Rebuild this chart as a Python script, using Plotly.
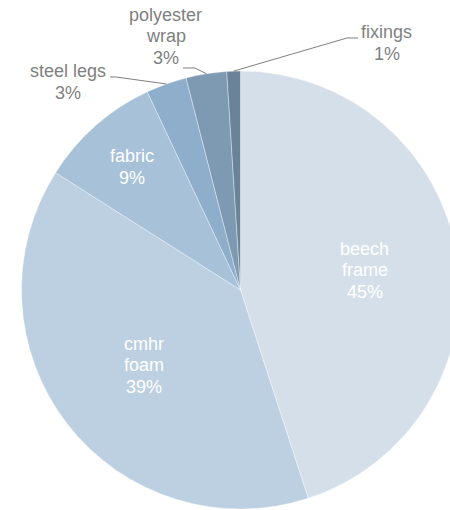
import math
import plotly.graph_objects as go

# Material breakdown (share of total, %)
materials = ["beech frame", "cmhr foam", "fabric", "steel legs", "polyester wrap", "fixings"]
shares = [45, 39, 9, 3, 3, 1]
label_lines = [["beech", "frame"], ["cmhr", "foam"], ["fabric"], ["steel legs"], ["polyester", "wrap"], ["fixings"]]
slice_colors = ["#D5DFEA", "#BDD0E1", "#A7C1D9", "#8EAECB", "#7E9AB2", "#6A8398"]

# Canvas and pie geometry (pixels)
W, H = 460, 510
CX, CY, R = 240.5, 290.0, 219.0
FONT = "Liberation Sans, Arial, sans-serif"
FS = 18
LINE_GAP = 21.5

# Label placement: inside labels sit on the slice bisector at a fraction of R;
# outside labels have a text anchor plus a leader-line elbow.
inside_radius = {0: 0.574, 1: 0.559, 2: 0.749}
outside_labels = {
    3: {"text": (67.5, 82.0), "elbow": [(110, 77), (116, 77)]},
    4: {"text": (165.5, 36.5), "elbow": [(183, 68), (195, 68)]},
    5: {"text": (386.5, 43.0), "elbow": [(358, 38), (347, 38)]},
}


def to_paper(px, py):
    return px / W, 1 - py / H


def polar_px(theta_deg, r):
    t = math.radians(theta_deg)
    return CX + r * math.sin(t), CY - r * math.cos(t)


fig = go.Figure(
    go.Pie(
        labels=materials,
        values=shares,
        sort=False,
        direction="clockwise",
        rotation=0,
        marker=dict(colors=slice_colors, line=dict(color="rgba(255,255,255,0.6)", width=0.6)),
        textinfo="none",
        hoverinfo="label+percent",
        showlegend=False,
        domain=dict(
            x=[(CX - R) / W, (CX + R) / W],
            y=[1 - (CY + R) / H, 1 - (CY - R) / H],
        ),
    )
)

total = sum(shares)
annotations = []
shapes = []
start = 0.0
for i, (val, lines) in enumerate(zip(shares, label_lines)):
    sweep = 360.0 * val / total
    mid = start + sweep / 2
    start += sweep
    pct = f"{round(100 * val / total)}%"
    all_lines = lines + [pct]
    if i in inside_radius:
        cx, cy = polar_px(mid, R * inside_radius[i])
        color = "#FFFFFF"
    else:
        cfg = outside_labels[i]
        cx, cy = cfg["text"]
        color = "#7F7F7F"
        ex, ey = polar_px(mid, R)
        pts = cfg["elbow"] + [(ex, ey)]
        path = "M " + " L ".join(
            f"{to_paper(px, py)[0]:.5f},{to_paper(px, py)[1]:.5f}" for px, py in pts
        )
        shapes.append(dict(type="path", xref="paper", yref="paper", path=path,
                           line=dict(color="#7F7F7F", width=1)))
    n = len(all_lines)
    for k, txt in enumerate(all_lines):
        ly = cy + (k - (n - 1) / 2) * LINE_GAP
        ax, ay = to_paper(cx, ly)
        annotations.append(dict(
            x=ax, y=ay, xref="paper", yref="paper", text=txt, showarrow=False,
            xanchor="center", yanchor="middle",
            font=dict(family=FONT, size=FS, color=color),
        ))

fig.update_layout(
    width=W,
    height=H,
    margin=dict(l=0, r=0, t=0, b=0),
    paper_bgcolor="white",
    plot_bgcolor="white",
    annotations=annotations,
    shapes=shapes,
)

fig.write_html("out.html")
